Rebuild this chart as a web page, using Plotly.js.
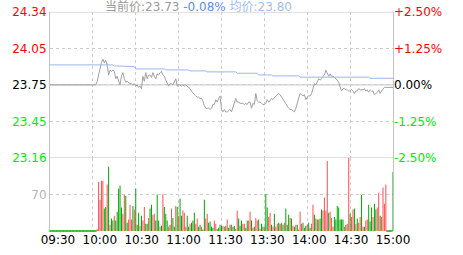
<!DOCTYPE html>
<html><head><meta charset="utf-8">
<script src="https://cdn.plot.ly/plotly-3.0.1.min.js"></script>
<style>html,body{margin:0;padding:0;background:#fff;overflow:hidden}</style>
</head><body><div id="chart" style="width:463px;height:255px"></div>
<script>
const prevClose = 23.75;
const pctLevels = [-0.025, -0.0125, 0, 0.0125, 0.025];
const priceLabels = ['23.16', '23.45', '23.75', '24.05', '24.34'];
const pctLabels = ['-2.50%', '-1.25%', '0.00%', '+1.25%', '+2.50%'];
const gridMinutes = [30, 60, 90, 120, 150, 180, 210];
const timeLabels = ['09:30', '10:00', '10:30', '11:00', '11:30', '13:30', '14:00', '14:30', '15:00'];
const volTicks = [70];
const volTickLabels = ['70'];
const volMax = 140;

const price = [
23.75,23.75,23.75,23.75,23.75,23.75,23.75,23.75,23.75,23.75,
23.75,23.75,23.75,23.75,23.75,23.75,23.75,23.75,23.75,23.75,
23.75,23.75,23.75,23.75,23.75,23.75,23.75,23.75,23.75,23.75,
23.75,23.75,23.75,23.78,23.84,23.90,23.93,23.96,23.93,23.95,
23.91,23.83,23.87,23.86,23.87,23.86,23.80,23.82,23.78,23.75,
23.82,23.85,23.80,23.77,23.78,23.77,23.76,23.76,23.75,23.76,
23.74,23.75,23.73,23.74,23.72,23.82,23.78,23.85,23.80,23.83,
23.83,23.81,23.85,23.82,23.80,23.84,23.83,23.85,23.86,23.83,
23.82,23.79,23.77,23.74,23.76,23.76,23.75,23.78,23.80,23.74,
23.75,23.75,23.74,23.75,23.74,23.75,23.74,23.73,23.72,23.70,
23.68,23.67,23.66,23.65,23.65,23.64,23.64,23.62,23.58,23.56,
23.56,23.56,23.55,23.56,23.59,23.59,23.63,23.61,23.64,23.66,
23.55,23.53,23.55,23.53,23.53,23.54,23.55,23.53,23.57,23.59,
23.64,23.61,23.61,23.60,23.60,23.60,23.59,23.60,23.59,23.61,
23.61,23.56,23.60,23.59,23.68,23.62,23.61,23.61,23.60,23.59,
23.59,23.60,23.63,23.61,23.62,23.64,23.63,23.65,23.66,23.67,
23.68,23.67,23.65,23.63,23.61,23.60,23.58,23.56,23.55,23.55,
23.54,23.53,23.56,23.60,23.65,23.68,23.67,23.66,23.67,23.63,
23.65,23.66,23.66,23.68,23.72,23.76,23.75,23.78,23.80,23.79,
23.80,23.82,23.83,23.87,23.85,23.82,23.84,23.82,23.82,23.81,
23.80,23.79,23.77,23.73,23.70,23.72,23.72,23.71,23.71,23.70,
23.70,23.71,23.70,23.68,23.70,23.70,23.72,23.71,23.71,23.71,
23.72,23.70,23.71,23.69,23.71,23.70,23.70,23.67,23.68,23.69,
23.71,23.68,23.70,23.72,23.73,23.73,23.73,23.73,23.73,23.73,
23.73];

const avgPrice = [
23.913,23.913,23.913,23.913,23.913,23.913,23.913,23.913,23.913,23.913,
23.913,23.913,23.913,23.913,23.913,23.913,23.913,23.913,23.913,23.913,
23.913,23.913,23.913,23.913,23.913,23.913,23.913,23.913,23.913,23.913,
23.913,23.913,23.913,23.913,23.913,23.913,23.913,23.913,23.913,23.913,
23.913,23.913,23.913,23.913,23.913,23.905,23.905,23.905,23.905,23.905,
23.905,23.899,23.899,23.899,23.899,23.899,23.899,23.899,23.899,23.899,
23.880,23.880,23.880,23.880,23.880,23.880,23.880,23.880,23.880,23.880,
23.880,23.880,23.880,23.880,23.880,23.880,23.880,23.880,23.880,23.880,
23.880,23.872,23.872,23.872,23.872,23.872,23.872,23.872,23.872,23.872,
23.872,23.872,23.872,23.872,23.872,23.872,23.872,23.872,23.864,23.864,
23.864,23.864,23.864,23.864,23.864,23.864,23.864,23.864,23.864,23.864,
23.856,23.856,23.856,23.856,23.856,23.856,23.856,23.856,23.856,23.856,
23.856,23.856,23.856,23.856,23.856,23.856,23.856,23.856,23.856,23.856,
23.856,23.845,23.845,23.845,23.845,23.845,23.845,23.845,23.845,23.845,
23.845,23.845,23.845,23.845,23.845,23.845,23.831,23.831,23.831,23.831,
23.831,23.831,23.831,23.831,23.831,23.831,23.823,23.823,23.823,23.823,
23.823,23.823,23.823,23.823,23.823,23.823,23.823,23.823,23.823,23.823,
23.823,23.823,23.823,23.823,23.823,23.813,23.813,23.813,23.813,23.813,
23.813,23.813,23.813,23.813,23.813,23.813,23.813,23.813,23.813,23.813,
23.813,23.813,23.813,23.813,23.813,23.813,23.813,23.813,23.813,23.813,
23.813,23.813,23.813,23.813,23.813,23.813,23.813,23.813,23.813,23.813,
23.813,23.813,23.813,23.813,23.813,23.813,23.813,23.813,23.813,23.813,
23.813,23.813,23.813,23.813,23.804,23.804,23.804,23.804,23.804,23.804,
23.804,23.804,23.804,23.804,23.804,23.804,23.804,23.804,23.804,23.804,
23.804];

const volume = [
0,0,0,0,0,0,0,0,0,0,
0,0,0,0,0,0,0,0,0,0,
0,0,0,0,0,0,0,0,0,0,
0,0,0,4,94,60,96,96,43,46,
89,123,12,24,20,29,20,37,81,87,
45,33,69,67,16,22,50,22,48,41,
81,12,35,10,29,20,46,14,14,25,
43,50,31,33,20,70,20,8,10,71,
46,33,20,8,12,43,25,8,48,46,
29,62,29,39,35,8,29,8,14,16,
20,35,14,24,8,12,8,3,60,24,
33,16,18,8,6,20,14,4,6,12,
10,10,8,10,22,6,12,12,8,10,
4,39,24,10,20,14,14,6,20,20,
37,20,6,8,25,20,22,4,14,8,
8,71,45,27,35,12,8,33,8,14,
16,14,16,12,16,43,12,31,25,24,
10,8,12,12,3,37,14,16,6,10,
12,16,6,14,50,31,24,22,22,24,
41,39,64,39,134,35,37,25,8,27,
22,48,45,22,22,22,8,12,14,140,
33,27,41,43,14,24,16,27,69,8,
8,20,22,50,18,45,27,52,41,45,
73,29,27,83,52,89,0,0,0,0,
113];

const volDir = [
-1,-1,-1,-1,-1,-1,-1,-1,-1,-1,
-1,-1,-1,-1,-1,-1,-1,-1,-1,-1,
-1,-1,-1,-1,-1,-1,-1,-1,-1,-1,
-1,-1,-1,1,1,1,1,1,-1,-1,
1,-1,1,-1,-1,1,-1,-1,-1,-1,
-1,1,1,-1,-1,1,1,1,-1,1,
-1,-1,-1,1,-1,1,1,-1,-1,1,
-1,-1,1,1,-1,-1,-1,1,-1,1,
-1,-1,-1,1,-1,1,-1,-1,1,-1,
1,-1,-1,1,1,1,-1,-1,1,-1,
-1,-1,1,1,-1,-1,1,-1,-1,1,
1,-1,-1,-1,-1,1,1,-1,-1,-1,
-1,1,1,-1,1,-1,-1,1,-1,-1,
1,1,-1,-1,-1,1,1,-1,-1,1,
1,-1,1,-1,1,1,-1,1,-1,-1,
1,-1,-1,1,1,-1,1,-1,1,1,
-1,-1,1,-1,1,-1,-1,-1,1,-1,
1,-1,1,-1,1,1,1,-1,-1,-1,
1,-1,-1,1,1,-1,1,-1,1,-1,
-1,1,1,1,1,-1,1,1,1,-1,
-1,-1,-1,-1,-1,-1,1,-1,1,1,
-1,1,1,-1,1,-1,1,1,-1,1,
-1,1,1,-1,-1,-1,1,-1,-1,1,
1,-1,1,1,1,1,-1,-1,-1,-1,
-1];

const RED = '#ff4f4f', GREEN = '#00a800';
const FONT = 'DejaVu Sans, "Noto Sans CJK SC", sans-serif';
const minutes = price.map((_, i) => i);
const levels = pctLevels.map(p => prevClose * (1 + p));
const lo = levels[0], hi = levels[levels.length - 1];
const levelColor = p => p > 0 ? '#ff0000' : (p < 0 ? '#00ee00' : '#000000');
const colorSpan = (t, c) => '<span style="color:' + c + '">' + t + '</span>';

const last = price[price.length - 1];
const chg = (last / prevClose - 1) * 100;
const avgLast = avgPrice[avgPrice.length - 1];
const titleText = colorSpan('当前价:' + last.toFixed(2), '#9a9a9a') + '\u00a0' +
  colorSpan((chg >= 0 ? '+' : '') + chg.toFixed(2) + '%', '#5b8ee6') + '\u00a0' +
  colorSpan('均价:' + avgLast.toFixed(2), '#a3bdf0');

const zeroMins = minutes.filter(i => volume[i] === 0);

const traces = [
  {type: 'bar', x: minutes, y: volume, xaxis: 'x', yaxis: 'y2',
   marker: {color: volDir.map(d => d > 0 ? RED : GREEN), line: {width: 0}}, hoverinfo: 'skip'},
  {type: 'scatter', mode: 'markers', x: zeroMins, y: zeroMins.map(() => 0), xaxis: 'x', yaxis: 'y2',
   marker: {symbol: 'line-ew', size: 1.6, line: {width: 1.2, color: GREEN}}, cliponaxis: false, hoverinfo: 'skip'},
  {type: 'scatter', mode: 'lines', x: minutes, y: avgPrice, xaxis: 'x', yaxis: 'y3',
   line: {color: '#9bb6ec', width: 1}, hoverinfo: 'skip'},
  {type: 'scatter', mode: 'lines', x: minutes, y: price, xaxis: 'x', yaxis: 'y',
   line: {color: '#a0a0a0', width: 1}, hoverinfo: 'skip'},
  {type: 'scatter', mode: 'none', x: timeLabels.map((_, i) => i), y: timeLabels.map(() => 0),
   xaxis: 'x2', yaxis: 'y2', hoverinfo: 'skip'}
];

const GRID = '#cccccc', BORDER = '#c4c4c4';
const volFrac = 73.3 / 219.3;

const layout = {
  width: 463, height: 255,
  margin: {l: 50, r: 70, t: 12, b: 24, pad: 0},
  paper_bgcolor: '#ffffff', plot_bgcolor: '#ffffff',
  showlegend: false, hovermode: false, bargap: 0.3,
  font: {family: FONT, size: 12, color: '#000'},
  title: {text: titleText, xref: 'container', x: 105 / 463, xanchor: 'left',
          yref: 'container', y: 1 - 7 / 255, yanchor: 'middle', font: {family: FONT, size: 12}},
  xaxis: {domain: [0, 1], range: [0, minutes.length - 1], anchor: 'y2',
          tickvals: gridMinutes, showticklabels: false, ticks: '',
          showgrid: true, gridcolor: GRID, griddash: '3px,3px', gridwidth: 1,
          zeroline: false, showline: false, fixedrange: true},
  xaxis2: {overlaying: 'x', anchor: 'y2', side: 'bottom', range: [-0.19, 8.0],
           tickvals: timeLabels.map((_, i) => i), ticktext: timeLabels, ticks: '',
           showgrid: false, zeroline: false, showline: false,
           tickfont: {family: FONT, size: 12, color: '#000'}},
  yaxis: {domain: [volFrac, 1], range: [lo, hi], anchor: 'x', side: 'left',
          tickvals: levels, ticktext: priceLabels.map((t, i) => colorSpan(t, levelColor(pctLevels[i]))),
          ticks: '', showgrid: true, gridcolor: GRID, griddash: '3px,3px',
          zeroline: false, showline: true, mirror: true, linecolor: BORDER, linewidth: 1,
          tickfont: {family: FONT, size: 12}},
  yaxis3: {overlaying: 'y', side: 'right', range: [lo, hi], anchor: 'x',
           tickvals: levels, ticktext: pctLabels.map((t, i) => colorSpan(t, levelColor(pctLevels[i]))),
           ticks: '', showgrid: false, zeroline: false, showline: false,
           tickfont: {family: FONT, size: 12}},
  yaxis2: {domain: [0, volFrac], range: [0, volMax], anchor: 'x',
           tickvals: volTicks, ticktext: volTickLabels, ticks: '',
           showgrid: true, gridcolor: GRID, griddash: '3px,3px',
           zeroline: false, showline: true, mirror: true, linecolor: BORDER, linewidth: 1,
           tickfont: {family: FONT, size: 12, color: '#b4b4b4'}},
  shapes: [hi, prevClose, lo].map(v => ({type: 'line', xref: 'paper', x0: 0, x1: 1, yref: 'y', y0: v, y1: v,
           line: {color: BORDER, width: 1}, layer: 'below'}))
};

Plotly.newPlot('chart', traces, layout, {staticPlot: true, displayModeBar: false});
</script>
</body></html>
